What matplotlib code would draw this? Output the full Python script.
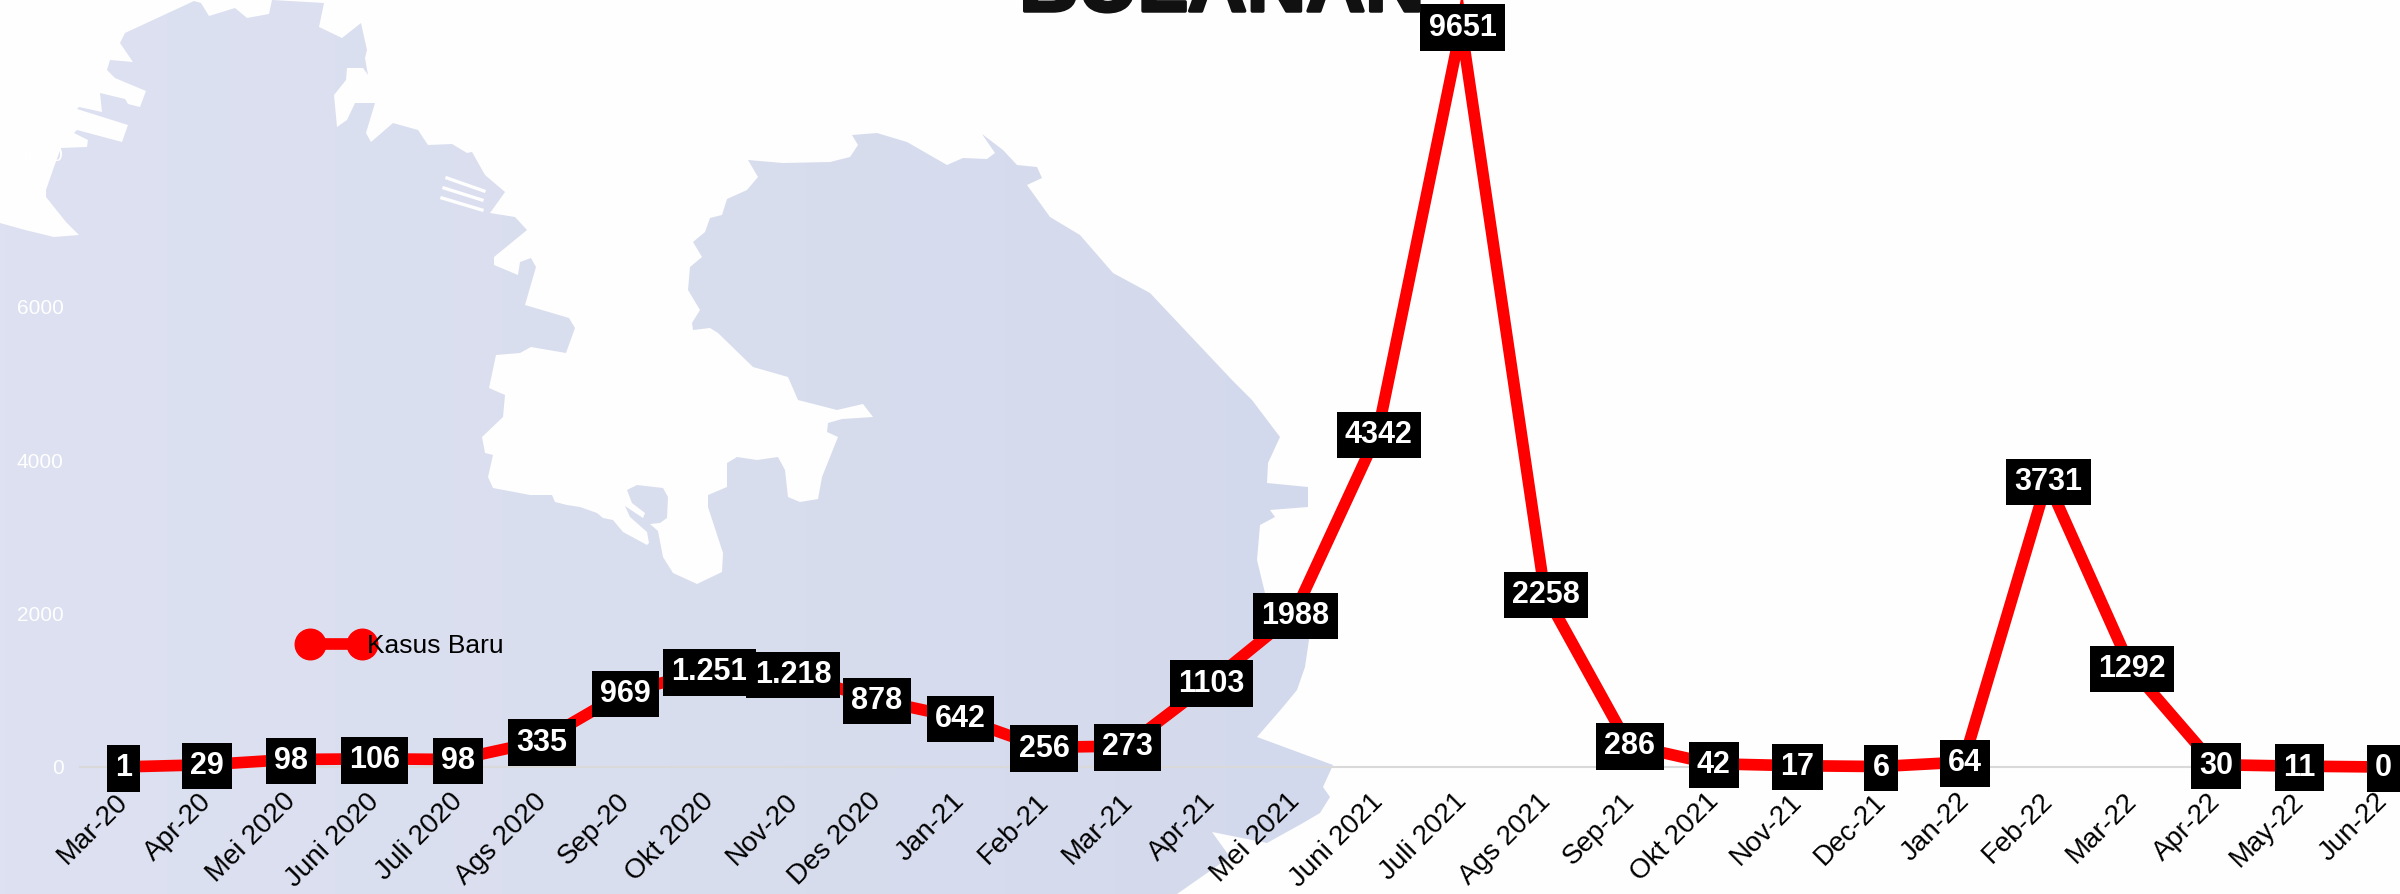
import numpy as np
import matplotlib

matplotlib.use("Agg")
import matplotlib.pyplot as plt
import matplotlib.patheffects as pe
from matplotlib.colors import LinearSegmentedColormap
from matplotlib.lines import Line2D
from matplotlib.patches import Polygon
from matplotlib.transforms import ScaledTranslation

plt.rcParams["font.family"] = ["Liberation Sans", "DejaVu Sans"]

months = [
    "Mar-20", "Apr-20", "Mei 2020", "Juni 2020", "Juli 2020", "Ags 2020", "Sep-20",
    "Okt 2020", "Nov-20", "Des 2020", "Jan-21", "Feb-21", "Mar-21", "Apr-21",
    "Mei 2021", "Juni 2021", "Juli 2021", "Ags 2021", "Sep-21", "Okt 2021",
    "Nov-21", "Dec-21", "Jan-22", "Feb-22", "Mar-22", "Apr-22", "May-22", "Jun-22",
]
kasus_baru = [
    1, 29, 98, 106, 98, 335, 969, 1251, 1218, 878, 642, 256, 273, 1103,
    1988, 4342, 9651, 2258, 286, 42, 17, 6, 64, 3731, 1292, 30, 11, 0,
]
value_labels = [
    "1", "29", "98", "106", "98", "335", "969", "1.251", "1.218", "878", "642",
    "256", "273", "1103", "1988", "4342", "9651", "2258", "286", "42", "17", "6",
    "64", "3731", "1292", "30", "11", "0",
]
y_ticks = [0, 2000, 4000, 6000, 8000]

# background map silhouette, in image pixels
map_outline = [
    (0, 223), (25, 230), (54, 237), (79, 235), (66, 222), (46, 197), (46, 190), (54, 167),
    (61, 148), (87, 147), (88, 140), (74, 133), (77, 130), (122, 142), (128, 125), (77, 109),
    (79, 107), (102, 112), (100, 93), (125, 99), (128, 104), (140, 107), (146, 91), (115, 78),
    (107, 70), (110, 60), (133, 62), (120, 43), (125, 33), (194, 1), (201, 3), (209, 16),
    (235, 8), (247, 18), (269, 14), (272, 0), (324, 3), (319, 27), (342, 38), (361, 23),
    (367, 50), (365, 58), (368, 75), (363, 68), (347, 68), (346, 80), (334, 95), (337, 127),
    (347, 120), (355, 103), (375, 103), (366, 133), (371, 142), (393, 123), (418, 130),
    (428, 145), (452, 144), (467, 153), (472, 152), (485, 175), (505, 192), (490, 213),
    (515, 217), (527, 230), (494, 257), (494, 265), (518, 275), (520, 262), (531, 258),
    (536, 267), (525, 305), (569, 318), (575, 328), (566, 353), (531, 347), (520, 353),
    (496, 355), (489, 388), (505, 395), (503, 417), (482, 437), (485, 453), (493, 455),
    (488, 477), (493, 488), (530, 495), (552, 495), (555, 502), (567, 505), (580, 507),
    (597, 513), (603, 518), (613, 520), (623, 532), (647, 545), (649, 543), (647, 532),
    (630, 517), (625, 506), (643, 518), (645, 513), (632, 503), (627, 490), (637, 485),
    (663, 488), (668, 497), (667, 518), (660, 523), (650, 524), (658, 531), (663, 557),
    (673, 573), (697, 584), (722, 572), (723, 553), (708, 507), (708, 495), (727, 487),
    (727, 463), (737, 457), (757, 460), (778, 457), (785, 470), (788, 497), (800, 502),
    (818, 499), (822, 477), (838, 437), (827, 432), (828, 423), (842, 419), (873, 417),
    (863, 404), (837, 410), (798, 400), (788, 377), (753, 367), (718, 333), (710, 328),
    (693, 330), (692, 323), (700, 310), (688, 290), (690, 267), (702, 257), (693, 242),
    (705, 232), (710, 218), (722, 215), (727, 199), (747, 190), (758, 177), (748, 160),
    (783, 163), (830, 162), (850, 157), (858, 145), (852, 135), (877, 133), (907, 142),
    (947, 165), (963, 158), (987, 159), (995, 153), (982, 134), (1003, 150), (1017, 165),
    (1037, 167), (1042, 178), (1027, 185), (1050, 217), (1080, 235), (1113, 273),
    (1150, 293), (1232, 380), (1252, 400), (1280, 437), (1268, 463), (1267, 483),
    (1308, 487), (1308, 507), (1270, 510), (1275, 517), (1260, 525), (1257, 560),
    (1265, 593), (1310, 633), (1305, 667), (1297, 690), (1283, 707), (1257, 737),
    (1333, 765), (1323, 787), (1330, 797), (1320, 813), (1303, 823), (1267, 843),
    (1212, 832), (1230, 857), (1177, 894), (0, 894),
]
harbor_strips = [
    [(447, 178), (484, 191)],
    [(444, 188), (482, 200)],
    [(442, 198), (482, 210)],
]

W, H = 2400, 894
DPI = 100
X_FIRST, X_STEP = 122, 83.7
Y_ZERO, PX_PER_2000 = 767, 153.5

fig = plt.figure(figsize=(W / DPI, H / DPI), dpi=DPI, facecolor="#fefefe")

# map layer
bg = fig.add_axes([0, 0, 1, 1])
cmap = LinearSegmentedColormap.from_list("map", ["#dde1f1", "#d9deee", "#d3d9ec"])
im = bg.imshow(
    np.linspace(0, 1, 256).reshape(1, -1),
    cmap=cmap,
    extent=(0, 1340, H, 0),
    aspect="auto",
)
patch = Polygon(map_outline, closed=True, transform=bg.transData, fc="none", ec="none")
bg.add_patch(patch)
im.set_clip_path(patch)
for strip in harbor_strips:
    bg.plot(*zip(*strip), color="#fefefe", lw=2.4)
bg.set_xlim(0, W)
bg.set_ylim(H, 0)
bg.axis("off")

# chart layer
left = (X_FIRST - X_STEP / 2) / W
width = X_STEP * len(months) / W
ax = fig.add_axes([left, 1 - Y_ZERO / H, width, Y_ZERO / H])
ax.patch.set_alpha(0)

x = np.arange(len(months))
ax.plot(x, kasus_baru, color="#ff0000", lw=8.4, solid_capstyle="round", solid_joinstyle="miter", clip_on=False, zorder=3)

for xi, yi, label in zip(x, kasus_baru, value_labels):
    ax.annotate(
        label,
        xy=(xi, yi),
        xytext=(1, -1),
        textcoords="offset points",
        color="white", fontsize=22, fontweight="bold",
        ha="center", va="center",
        bbox=dict(boxstyle="square,pad=0.27", fc="black", ec="none"),
        annotation_clip=False, zorder=4,
    )

ax.set_xlim(-0.5, len(months) - 0.5)
ax.set_ylim(0, Y_ZERO / PX_PER_2000 * 2000)
ax.set_xticks(x)
ax.set_xticklabels(months, rotation=45, ha="right", va="center", rotation_mode="anchor", fontsize=20, color="black")
ax.set_yticks(y_ticks)
ax.set_yticklabels([str(t) for t in y_ticks], fontsize=15, color="white")
ax.tick_params(axis="x", length=0, pad=22)
ax.tick_params(axis="y", length=0, pad=12)

# labels sit a little right of their ticks in the original
shift = ScaledTranslation(2 / DPI, 0, fig.dpi_scale_trans)
for tick_label in ax.get_xticklabels():
    tick_label.set_transform(tick_label.get_transform() + shift)

for side in ["top", "right", "left"]:
    ax.spines[side].set_visible(False)
ax.spines["bottom"].set_color("#d9d9d9")
ax.spines["bottom"].set_linewidth(1.5)

handle = Line2D([], [], color="#ff0000", lw=8.4, marker="o", markersize=22)
ax.legend(
    [handle], ["Kasus Baru"],
    loc="center left",
    bbox_to_anchor=(302 / W, 1 - 646 / H),
    bbox_transform=fig.transFigure,
    numpoints=2,
    frameon=False,
    fontsize=19,
    handlelength=2.57,
    handletextpad=-0.1,
    borderpad=0,
    borderaxespad=0,
)

# title, cut off by the top of the image as in the original
fig.text(
    1222 / W, 1 - 11 / H, "BULANAN",
    fontsize=59, fontweight="bold", color="#111111",
    ha="center", va="baseline",
    path_effects=[
        pe.SimpleLineShadow(offset=(1, -2), shadow_color="#555555", alpha=0.6),
        pe.withStroke(linewidth=2.5, foreground="#111111"),
    ],
)

fig.savefig("out.png", dpi=DPI, facecolor=fig.get_facecolor())
